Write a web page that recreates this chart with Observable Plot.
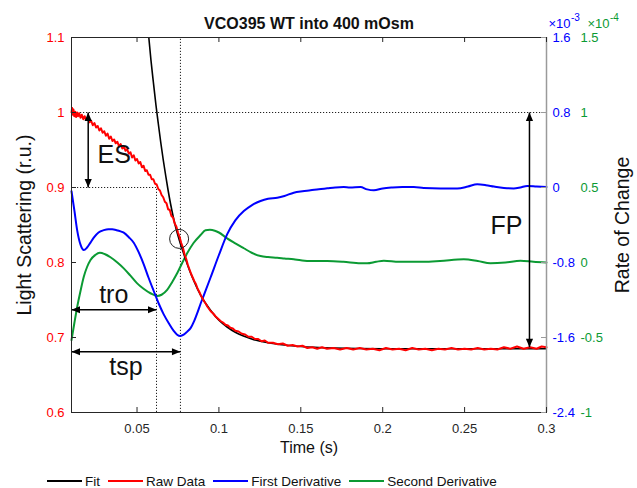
<!DOCTYPE html>
<html><head><meta charset="utf-8">
<script src="https://cdn.jsdelivr.net/npm/d3@7"></script>
<script src="https://cdn.jsdelivr.net/npm/@observablehq/plot@0.6"></script>
<style>
body{margin:0;background:#fff;font-family:"Liberation Sans",Arial,sans-serif;}
#wrap{position:relative;width:637px;height:488px;overflow:hidden;}
#legend{position:absolute;left:47px;top:472px;height:18px;display:flex;align-items:center;font-size:13.5px;color:#111;white-space:nowrap;}
.item{display:flex;align-items:center;margin-right:8px;}
.sw{width:35px;height:0;border-top:2px solid;margin-right:3px;}
</style></head><body><div id="wrap"></div><script>
// ---------- data ----------
const rawTime = [
0.0100,0.0104,0.0108,0.0112,0.0117,0.0122,0.0128,0.0134,0.0140,0.0147,
0.0155,0.0163,0.0172,0.0180,0.0190,0.0200,0.0210,0.0220,0.0230,0.0240,
0.0250,0.0260,0.0270,0.0280,0.0290,0.0300,0.0310,0.0320,0.0330,0.0340,
0.0350,0.0360,0.0370,0.0380,0.0390,0.0400,0.0410,0.0420,0.0430,0.0440,
0.0450,0.0460,0.0470,0.0480,0.0490,0.0500,0.0510,0.0520,0.0530,0.0540,
0.0550,0.0560,0.0570,0.0580,0.0590,0.0600,0.0610,0.0620,0.0630,0.0640,
0.0650,0.0660,0.0670,0.0680,0.0690,0.0700,0.0710,0.0720,0.0730,0.0740,
0.0750,0.0760,0.0770,0.0780,0.0790,0.0800,0.0810,0.0820,0.0830,0.0840,
0.0850,0.0860,0.0870,0.0880,0.0890,0.0900,0.0910,0.0920,0.0930,0.0940,
0.0950,0.0965,0.0980,0.0995,0.1010,0.1025,0.1040,0.1055,0.1070,0.1085,
0.1100,0.1120,0.1140,0.1160,0.1180,0.1200,0.1220,0.1240,0.1260,0.1280,
0.1300,0.1330,0.1360,0.1390,0.1420,0.1450,0.1480,0.1510,0.1540,0.1570,
0.1600,0.1630,0.1660,0.1700,0.1740,0.1780,0.1820,0.1860,0.1900,0.1940,
0.1980,0.2020,0.2060,0.2100,0.2140,0.2180,0.2220,0.2260,0.2300,0.2340,
0.2380,0.2420,0.2460,0.2500,0.2540,0.2580,0.2620,0.2660,0.2700,0.2740,
0.2780,0.2820,0.2860,0.2900,0.2940,0.2970,0.3000];
const rawValue = [
1.000,1.006,0.997,1.004,0.995,1.001,0.994,1.000,0.995,0.999,
0.993,0.997,0.991,0.995,0.990,0.992,0.987,0.989,0.983,0.986,
0.980,0.982,0.976,0.979,0.973,0.975,0.969,0.972,0.965,0.968,
0.962,0.964,0.959,0.961,0.955,0.958,0.952,0.954,0.949,0.951,
0.945,0.947,0.940,0.943,0.936,0.938,0.932,0.934,0.927,0.929,
0.922,0.923,0.917,0.917,0.911,0.911,0.905,0.904,0.898,0.896,
0.890,0.887,0.881,0.879,0.871,0.870,0.862,0.860,0.852,0.848,
0.840,0.834,0.826,0.820,0.811,0.805,0.797,0.791,0.785,0.780,
0.775,0.771,0.765,0.761,0.756,0.752,0.748,0.745,0.741,0.738,
0.735,0.732,0.728,0.725,0.722,0.720,0.717,0.716,0.713,0.712,
0.709,0.708,0.705,0.704,0.701,0.701,0.698,0.698,0.695,0.696,
0.693,0.693,0.691,0.692,0.689,0.690,0.688,0.689,0.686,0.687,
0.685,0.687,0.685,0.686,0.684,0.686,0.684,0.686,0.684,0.685,
0.683,0.686,0.684,0.685,0.683,0.686,0.684,0.685,0.683,0.685,
0.684,0.686,0.684,0.685,0.684,0.686,0.684,0.685,0.684,0.687,
0.685,0.688,0.685,0.687,0.685,0.688,0.687];

const fitTime  = [0.0572,0.0585,0.0600,0.0615,0.0630,0.0645,0.0660,0.0675,0.0690,0.0705,0.0720,0.0735,0.0750,0.0765,0.0780,0.0800,0.0825,0.0850,0.0875,0.0900,0.0950,0.1000,0.1050,0.1100,0.1150,0.1200,0.1300,0.1400,0.1500,0.1700,0.2000,0.2500,0.3000];
const fitValue = [1.100,1.070,1.040,1.011,0.985,0.960,0.937,0.916,0.896,0.878,0.862,0.848,0.836,0.825,0.815,0.802,0.787,0.774,0.762,0.752,0.736,0.723,0.714,0.707,0.702,0.698,0.693,0.690,0.688,0.686,0.685,0.685,0.685];

// first derivative (x 10^-3)
const d1Time  = [0.0100,0.0118,0.0135,0.0155,0.0175,0.0195,0.0215,0.0236,0.0265,0.0297,0.0325,0.0348,0.0375,0.0400,0.0419,0.0450,0.0480,0.0510,0.0541,0.0570,0.0602,0.0633,0.0663,0.0695,0.0725,0.0745,0.0765,0.0785,0.0805,0.0827,0.0850,0.0870,0.0888,0.0910,0.0949,0.1000,0.1050,0.1100,0.1152,0.1200,0.1254,0.1300,0.1356,0.1400,0.1457,0.1510,0.1559,0.1610,0.1661,0.1710,0.1762,0.1800,0.1864,0.1905,0.1946,0.2000,0.2060,0.2120,0.2190,0.2250,0.2353,0.2455,0.2520,0.2577,0.2630,0.2679,0.2740,0.2800,0.2840,0.2882,0.2940,0.3000];
const d1Value = [-0.04,-0.25,-0.46,-0.61,-0.667,-0.64,-0.59,-0.535,-0.48,-0.455,-0.445,-0.446,-0.455,-0.468,-0.482,-0.53,-0.589,-0.69,-0.819,-0.96,-1.104,-1.24,-1.353,-1.45,-1.531,-1.57,-1.584,-1.57,-1.54,-1.50,-1.42,-1.33,-1.24,-1.14,-0.96,-0.72,-0.50,-0.35,-0.251,-0.19,-0.144,-0.12,-0.109,-0.09,-0.055,-0.04,-0.03,-0.018,-0.009,0.0,0.005,0.0,0.005,-0.02,-0.03,-0.01,0.0,0.005,0.005,-0.005,-0.01,-0.01,0.01,0.034,0.025,0.01,-0.005,-0.01,0.0,0.016,0.01,0.005];

// second derivative (x 10^-4)
const d2Time  = [0.0100,0.0118,0.0135,0.0155,0.0175,0.0195,0.0216,0.0245,0.0273,0.0305,0.0338,0.0380,0.0419,0.0460,0.0501,0.0540,0.0582,0.0623,0.0650,0.0684,0.0715,0.0745,0.0775,0.0806,0.0845,0.0888,0.0918,0.0945,0.0975,0.1000,0.1050,0.1100,0.1152,0.1200,0.1254,0.1300,0.1356,0.1400,0.1457,0.1500,0.1559,0.1661,0.1760,0.1864,0.1905,0.1960,0.2007,0.2100,0.2250,0.2350,0.2495,0.2580,0.2658,0.2750,0.2841,0.2920,0.3000];
const d2Value = [-0.517,-0.40,-0.295,-0.19,-0.095,-0.03,0.017,0.05,0.065,0.055,0.035,0.0,-0.039,-0.088,-0.139,-0.175,-0.205,-0.223,-0.215,-0.183,-0.13,-0.072,-0.005,0.061,0.13,0.183,0.215,0.218,0.212,0.200,0.161,0.128,0.095,0.065,0.043,0.036,0.032,0.027,0.021,0.015,0.01,0.01,0.005,-0.005,-0.005,0.005,0.012,0.005,0.005,0.01,0.021,0.01,-0.005,0.0,0.012,0.005,0.0];

// axes
const leftTicks = [0.6, 0.7, 0.8, 0.9, 1, 1.1];
const timeTicks = [0.05, 0.1, 0.15, 0.2, 0.25, 0.3];
const d1Ticks = [-2.4, -1.6, -0.8, 0, 0.8, 1.6];
const d2Ticks = [-1, -0.5, 0, 0.5, 1, 1.5];

// annotations (data units)
const hGuides = [{t1: 0.01, t2: 0.3, v: 1.0}, {t1: 0.01, t2: 0.0619, v: 0.9}];
const vGuides = [{t: 0.0619, v1: 0.6, v2: 0.9}, {t: 0.0765, v1: 0.6, v2: 1.1}];
const vArrows = [{t: 0.0202, top: 1.0, bottom: 0.9}, {t: 0.2896, top: 1.0, bottom: 0.687}];
const hArrows = [{v: 0.737, left: 0.01, right: 0.0619}, {v: 0.681, left: 0.01, right: 0.0765}];
const labels = [
  {t: 0.0361, v: 0.944, text: "ES"},
  {t: 0.2756, v: 0.849, text: "FP"},
  {t: 0.0358, v: 0.757, text: "tro"},
  {t: 0.0433, v: 0.661, text: "tsp"}
];
const circlePt = [{t: 0.0757, v: 0.8315}];

const seriesNames = ["Fit", "Raw Data", "First Derivative", "Second Derivative"];
const seriesColors = ["#000000", "#ff0000", "#0000ff", "#0b9a33"];

// ---------- build ----------
const FONT = '"Liberation Sans", Arial, sans-serif';
const RED = seriesColors[1], BLUE = seriesColors[2], GREEN = seriesColors[3];
const rows = (T, V) => T.map((t, i) => ({t, v: V[i]}));
const rawRows = rows(rawTime, rawValue);
const fitRows = rows(fitTime, fitValue);
const d1Rows = rows(d1Time, d1Value);
const d2Rows = rows(d2Time, d2Value);
// right-axis domains mapped onto the left-axis domain
const d1ToLeft = d3.scaleLinear([-2.4, 1.6], [0.6, 1.1]);
const d2ToLeft = d3.scaleLinear([-1, 1.5], [0.6, 1.1]);

const W = 637, H = 466, mL = 71, mR = 91, mT = 37, mB = 54;
const plotW = W - mL - mR, plotH = H - mT - mB, tk = 5;

const headUp = {draw(c){c.moveTo(0,0);c.lineTo(3.6,8.5);c.lineTo(-3.6,8.5);c.closePath();}};
const headDown = {draw(c){c.moveTo(0,0);c.lineTo(3.6,-8.5);c.lineTo(-3.6,-8.5);c.closePath();}};
const headLeft = {draw(c){c.moveTo(0,0);c.lineTo(8.5,3.6);c.lineTo(8.5,-3.6);c.closePath();}};
const headRight = {draw(c){c.moveTo(0,0);c.lineTo(-8.5,3.6);c.lineTo(-8.5,-3.6);c.closePath();}};

const dotted = {stroke: "#222", strokeWidth: 1, strokeDasharray: "1.2,1.8"};

const chart = Plot.plot({
  width: W, height: H,
  marginLeft: mL, marginRight: mR, marginTop: mT, marginBottom: mB,
  style: {fontFamily: FONT, background: "white", overflow: "visible"},
  x: {domain: [0.01, 0.3], axis: null, label: null},
  y: {domain: [0.6, 1.1], axis: null, label: null},
  marks: [
    Plot.ruleY(hGuides, {y: "v", x1: "t1", x2: "t2", ...dotted}),
    Plot.ruleX(vGuides, {x: "t", y1: "v1", y2: "v2", ...dotted}),
    Plot.line(d2Rows, {x: "t", y: d => d2ToLeft(d.v), stroke: GREEN, strokeWidth: 2, curve: "monotone-x"}),
    Plot.line(d1Rows, {x: "t", y: d => d1ToLeft(d.v), stroke: BLUE, strokeWidth: 2, curve: "monotone-x"}),
    Plot.line(fitRows, {x: "t", y: "v", stroke: "#000", strokeWidth: 1.6, curve: "monotone-x", clip: true}),
    Plot.line(rawRows, {x: "t", y: "v", stroke: RED, strokeWidth: 2}),
    Plot.dot(circlePt, {x: "t", y: "v", r: 9.5, stroke: "#222", strokeWidth: 1, fill: "none"}),
    // arrows
    Plot.link(vArrows, {x1: "t", x2: "t", y1: "top", y2: "bottom", stroke: "#000", strokeWidth: 1.5}),
    Plot.link(hArrows, {x1: "left", x2: "right", y1: "v", y2: "v", stroke: "#000", strokeWidth: 1.5}),
    Plot.dot(vArrows, {x: "t", y: "top", symbol: headUp, fill: "#000", stroke: "none"}),
    Plot.dot(vArrows, {x: "t", y: "bottom", symbol: headDown, fill: "#000", stroke: "none"}),
    Plot.dot(hArrows, {x: "left", y: "v", symbol: headLeft, fill: "#000", stroke: "none"}),
    Plot.dot(hArrows, {x: "right", y: "v", symbol: headRight, fill: "#000", stroke: "none"}),
    Plot.text(labels, {x: "t", y: "v", text: "text", fontSize: 25, fill: "#111", textAnchor: "middle", lineAnchor: "middle"}),
    // frame & ticks
    Plot.frame({stroke: "#262626", strokeWidth: 1}),
    Plot.ruleX([0.3], {stroke: "#9a9a9a", strokeWidth: 1.5}),
    Plot.ruleY(leftTicks, {insetRight: plotW - tk, stroke: "#262626"}),
    Plot.ruleY(leftTicks, {insetLeft: plotW - tk, stroke: "#9a9a9a"}),
    Plot.ruleX(timeTicks, {insetTop: plotH - tk, stroke: "#262626"}),
    Plot.ruleX(timeTicks, {insetBottom: plotH - tk, stroke: "#262626"}),
    // tick labels
    Plot.axisY(leftTicks, {anchor: "left", tickSize: 0, tickPadding: 7, tickFormat: d => String(d), fill: RED, fontSize: 13, label: null}),
    Plot.axisX(timeTicks, {anchor: "bottom", tickSize: 0, tickPadding: 11, tickFormat: d => String(d), fill: "#262626", fontSize: 13, label: null}),
    Plot.text(d1Ticks, {frameAnchor: "right", y: d => d1ToLeft(d), text: d => String(d), textAnchor: "start", dx: 6, fill: BLUE, fontSize: 13}),
    Plot.text(d2Ticks, {frameAnchor: "right", y: d => d2ToLeft(d), text: d => String(d), textAnchor: "start", dx: 34, fill: GREEN, fontSize: 13}),
    // exponents
    Plot.text(["\u00d710"], {frameAnchor: "top-right", dx: 2, dy: -10, textAnchor: "start", lineAnchor: "bottom", fill: BLUE, fontSize: 13}),
    Plot.text(["-3"], {frameAnchor: "top-right", dx: 24.5, dy: -17, textAnchor: "start", lineAnchor: "bottom", fill: BLUE, fontSize: 10}),
    Plot.text(["\u00d710"], {frameAnchor: "top-right", dx: 41, dy: -10, textAnchor: "start", lineAnchor: "bottom", fill: GREEN, fontSize: 13}),
    Plot.text(["-4"], {frameAnchor: "top-right", dx: 63.5, dy: -17, textAnchor: "start", lineAnchor: "bottom", fill: GREEN, fontSize: 10}),
    // titles
    Plot.text(["VCO395 WT into 400 mOsm"], {frameAnchor: "top", dy: -9, lineAnchor: "bottom", fontSize: 16, fontWeight: "bold", fill: "#111"}),
    Plot.text(["Time (s)"], {frameAnchor: "bottom", dy: 35, lineAnchor: "middle", fontSize: 16, fill: "#111"}),
    Plot.text(["Light Scattering (r.u.)"], {frameAnchor: "left", dx: -47, rotate: -90, textAnchor: "middle", lineAnchor: "middle", fontSize: 19.5, fill: "#111"}),
    Plot.text(["Rate of Change"], {frameAnchor: "right", dx: 76, rotate: -90, textAnchor: "middle", lineAnchor: "middle", fontSize: 19.5, fill: "#111"})
  ]
});

const wrap = document.getElementById("wrap");
wrap.appendChild(chart);
const legend = document.createElement("div");
legend.id = "legend";
seriesNames.forEach((name, i) => {
  const it = document.createElement("div"); it.className = "item";
  const sw = document.createElement("span"); sw.className = "sw"; sw.style.borderTopColor = seriesColors[i];
  const tx = document.createElement("span"); tx.textContent = name;
  it.appendChild(sw); it.appendChild(tx); legend.appendChild(it);
});
wrap.appendChild(legend);
</script></body></html>
